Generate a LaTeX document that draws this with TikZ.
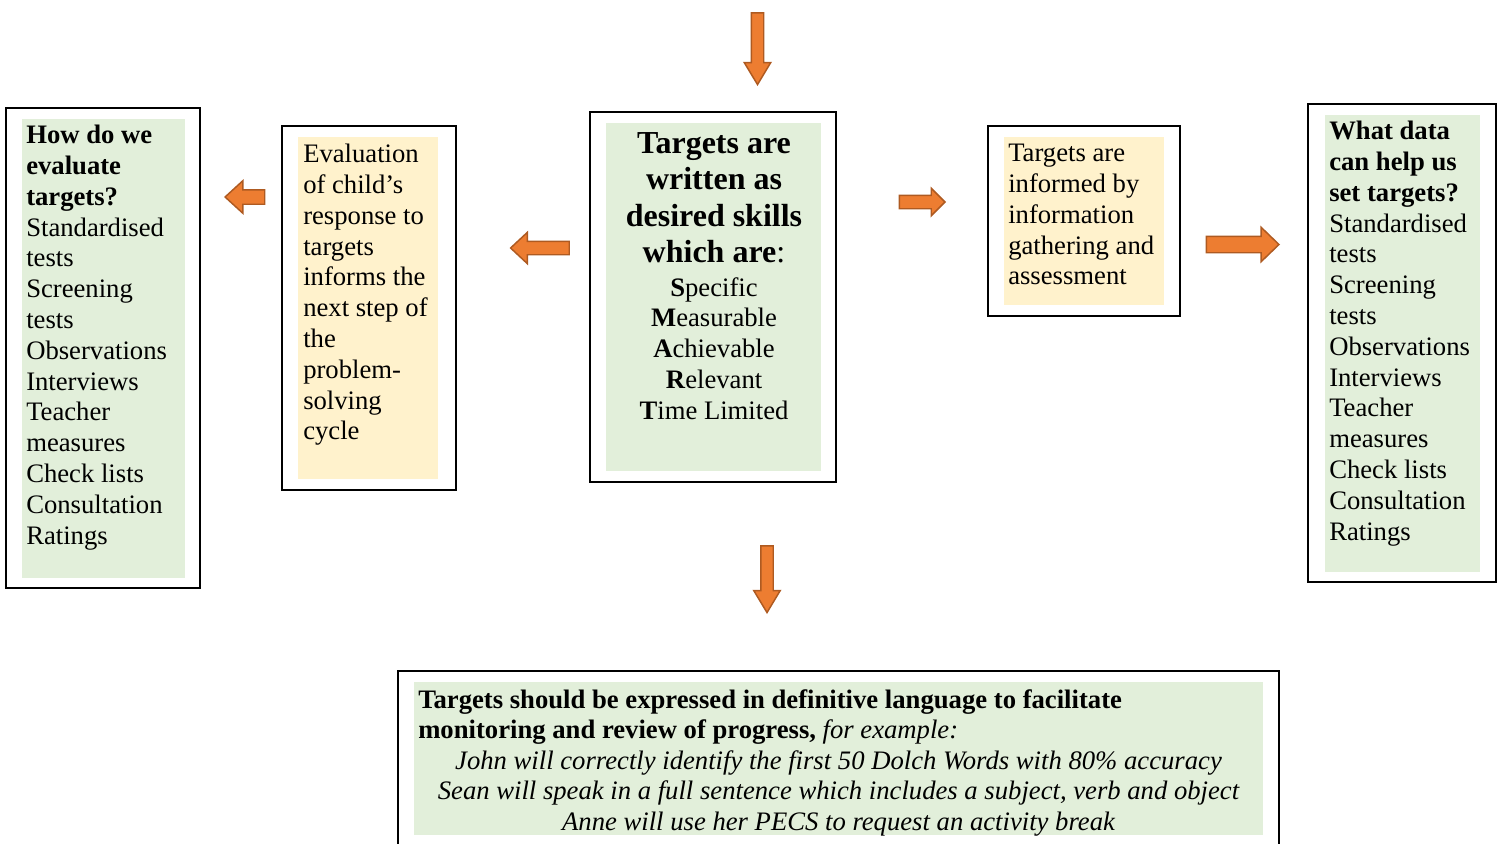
\documentclass[tikz,border=0pt]{standalone}
\usepackage{fontspec}
\setmainfont{Liberation Serif}
\usetikzlibrary{shapes.arrows}
\definecolor{boxgreen}{HTML}{E2EFDA}
\definecolor{boxyellow}{HTML}{FFF2CC}
\definecolor{arrowfill}{HTML}{ED7D31}
\definecolor{arrowedge}{HTML}{AE5A21}
\tikzset{
  outerbox/.style={draw=black,line width=1.1pt},
  greenbg/.style={fill=boxgreen},
  yellowbg/.style={fill=boxyellow},
  bodytext/.style={inner sep=0pt,align=left,font=\fontsize{20}{23.1}\selectfont},
  titletext/.style={inner sep=0pt,align=center,font=\fontsize{24}{27.4}\selectfont\bfseries},
  blockarrow/.style={shape=single arrow,draw=arrowedge,fill=arrowfill,line width=1.1pt,
    minimum width=0pt,single arrow head indent=0pt,anchor=tip},
}
\begin{document}
\begin{tikzpicture}[x=0.75pt,y=-0.75pt]
\useasboundingbox (0,0) rectangle (1500,843);
% left box
\draw[outerbox] (6,108) rectangle (200,588);
\fill[greenbg] (22,119) rectangle (185,578);
\node[bodytext,anchor=north west] (evalq) at (26,125) {\textbf{How do we}\\\textbf{evaluate}\\\textbf{targets?}\\Standardised\\tests\\Screening\\tests\\Observations\\Interviews\\Teacher\\measures\\Check lists\\Consultation\\Ratings};
% evaluation box
\draw[outerbox] (282,126) rectangle (456,490);
\fill[yellowbg] (298,137) rectangle (438,479);
\node[bodytext,anchor=north west] (evaltext) at (303,144) {Evaluation\\of child’s\\response to\\targets\\informs the\\next step of\\the\\problem-\\solving\\cycle};
% center box
\draw[outerbox] (590,112) rectangle (836,482);
\fill[greenbg] (606,123) rectangle (821,471);
\node[titletext,anchor=north] (title) at (714,132) {Targets are\\written as\\desired skills\\which are\textmd{:}};
\node[bodytext,align=center,anchor=north] (smart) at (714,277) {\textbf{S}pecific\\\textbf{M}easurable\\\textbf{A}chievable\\\textbf{R}elevant\\\textbf{T}ime Limited};
% informed box
\draw[outerbox] (988,126) rectangle (1180,316);
\fill[yellowbg] (1004,137) rectangle (1164,305);
\node[bodytext,anchor=north west] (informed) at (1008,144) {Targets are\\informed by\\information\\gathering and\\assessment};
% right box
\draw[outerbox] (1308,104) rectangle (1496,582);
\fill[greenbg] (1325,115) rectangle (1480,572);
\node[bodytext,anchor=north west] (dataq) at (1329,121) {\textbf{What data}\\\textbf{can help us}\\\textbf{set targets?}\\Standardised\\tests\\Screening\\tests\\Observations\\Interviews\\Teacher\\measures\\Check lists\\Consultation\\Ratings};
% bottom box
\draw[outerbox] (398,845) -- (398,671) -- (1279,671) -- (1279,845);
\fill[greenbg] (414,682) rectangle (1263,835);
\node[bodytext,anchor=north west] (lang) at (418,689) {\textbf{Targets should be expressed in definitive language to facilitate}\\\textbf{monitoring and review of progress,} \textit{for example:}};
\node[bodytext,align=center,anchor=north,font=\fontsize{20}{23.1}\selectfont\itshape] (examples) at (838.5,750) {John will correctly identify the first 50 Dolch Words with 80\% accuracy\\Sean will speak in a full sentence which includes a subject, verb and object\\Anne will use her PECS to request an activity break};
% arrows
\node[blockarrow,minimum height=53.75pt,inner sep=4.125pt,single arrow head extend=5.25pt,single arrow tip angle=62,shape border rotate=270] (arrtop) at (757.5,86) {};
\node[blockarrow,minimum height=50pt,inner sep=4.125pt,single arrow head extend=5.25pt,single arrow tip angle=62,shape border rotate=270] (arrbottom) at (767,614) {};
\node[blockarrow,minimum height=29.75pt,inner sep=4.875pt,single arrow head extend=6.75pt,single arrow tip angle=85,shape border rotate=180] (arrleftA) at (224,197) {};
\node[blockarrow,minimum height=44pt,inner sep=4.5pt,single arrow head extend=6.75pt,single arrow tip angle=86,shape border rotate=180] (arrleftB) at (509.5,248) {};
\node[blockarrow,minimum height=34.25pt,inner sep=4.5pt,single arrow head extend=5.25pt,single arrow tip angle=90] (arrrightA) at (946,202) {};
\node[blockarrow,minimum height=54.5pt,inner sep=5.625pt,single arrow head extend=6.75pt,single arrow tip angle=88] (arrrightB) at (1280,244.5) {};
\end{tikzpicture}
\end{document}
